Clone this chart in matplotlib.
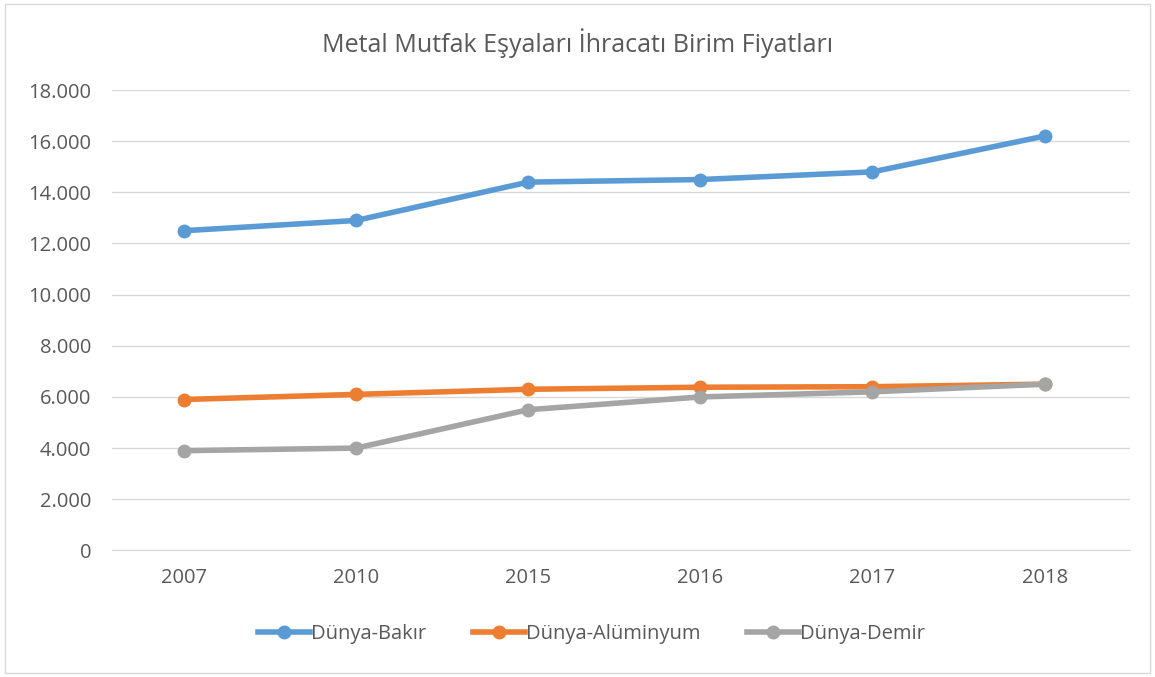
import matplotlib.pyplot as plt
from matplotlib.ticker import FuncFormatter

years = ['2007', '2010', '2015', '2016', '2017', '2018']
bakir = [12500, 12900, 14400, 14500, 14800, 16200]
aluminyum = [5900, 6100, 6300, 6380, 6400, 6500]
demir = [3900, 4000, 5500, 6000, 6200, 6500]

plt.rcParams['font.family'] = ['Open Sans', 'DejaVu Sans']

fig = plt.figure(figsize=(11.55, 6.77), dpi=100)
ax = fig.add_axes([0.097, 0.187, 0.881, 0.68])

x = range(len(years))
ax.plot(x, bakir, color='#5b9bd5', lw=4, marker='o', ms=9, label='Dünya-Bakır', zorder=3)
ax.plot(x, aluminyum, color='#ed7d31', lw=4, marker='o', ms=9, label='Dünya-Alüminyum', zorder=3)
ax.plot(x, demir, color='#a5a5a5', lw=4, marker='o', ms=9, label='Dünya-Demir', zorder=4)

ax.set_xlim(-0.418, 5.494)
ax.set_ylim(0, 18000)
ax.set_yticks(range(0, 18001, 2000))
ax.yaxis.set_major_formatter(FuncFormatter(lambda v, p: f'{int(v):,}'.replace(',', '.')))
ax.set_xticks(list(x))
ax.set_xticklabels(years)
ax.grid(axis='y', color='#d9d9d9', lw=1)
ax.set_axisbelow(True)
for s in ['top', 'right', 'left']:
    ax.spines[s].set_visible(False)
ax.spines['bottom'].set_color('#d9d9d9')
ax.tick_params(axis='both', length=0, labelsize=14.5, colors='#595959')
ax.tick_params(axis='y', pad=15)
ax.tick_params(axis='x', pad=13)

fig.suptitle('Metal Mutfak Eşyaları İhracatı Birim Fiyatları', y=0.958, fontsize=18, color='#595959')
fig.legend(loc='center', bbox_to_anchor=(0.512, 0.064), ncol=3, frameon=False, fontsize=14.5,
           labelcolor='#595959', handlelength=2.6, handletextpad=0.05, columnspacing=2.3)

fig.patches.append(plt.Rectangle((0.004, 0.006), 0.992, 0.988, transform=fig.transFigure,
                                 fill=False, edgecolor='#d9d9d9', lw=1))

fig.savefig('out.png', dpi=100)
